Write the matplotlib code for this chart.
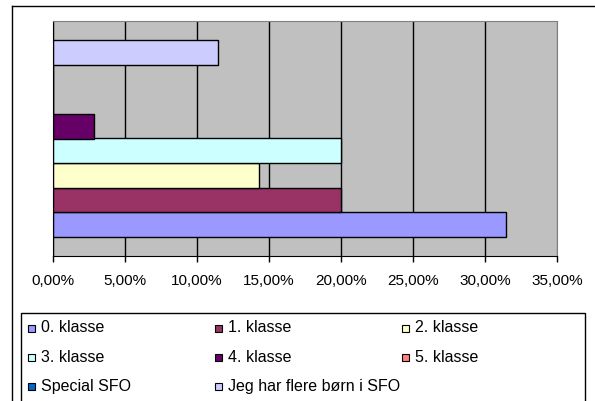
import matplotlib
matplotlib.use("Agg")
import matplotlib.pyplot as plt
from matplotlib.patches import Rectangle
from matplotlib.lines import Line2D
from matplotlib.ticker import FuncFormatter
import numpy as np

plt.rcParams['font.family'] = ['Liberation Sans', 'DejaVu Sans']

series = ["0. klasse", "1. klasse", "2. klasse", "3. klasse",
          "4. klasse", "5. klasse", "Special SFO", "Jeg har flere børn i SFO"]
values = [31.43, 20.00, 14.29, 20.00, 2.86, 0.0, 0.0, 11.43]
colors = ["#9999FF", "#993366", "#FFFFCC", "#CCFFFF",
          "#660066", "#FF8080", "#0066CC", "#CCCCFF"]
xticks = [0, 5, 10, 15, 20, 25, 30, 35]

W, H = 595, 401
fig = plt.figure(figsize=(W / 100, H / 100), dpi=100)


def px(x, y):
    # pixel position (from top-left) -> figure fraction
    return x / W, 1 - y / H


# outer chart border (cut off on the right and bottom)
fig.add_artist(Line2D([12 / W, 12 / W], [0, 1 - 6 / H], color="black", lw=1.0))
fig.add_artist(Line2D([12 / W, 1], [1 - 6 / H, 1 - 6 / H], color="black", lw=1.0))

left, top, right, bottom = 53, 21, 557, 256
ax = fig.add_axes([left / W, 1 - bottom / H, (right - left) / W, (bottom - top) / H])
ax.set_facecolor("#C0C0C0")

ypos = np.arange(len(series))
ax.barh(ypos, values, height=1.0, color=colors, edgecolor="black", linewidth=1)

ax.set_xlim(0, 35)
ax.set_ylim(-1.27, len(series) - 1 + 1.27)
ax.set_xticks(xticks)
ax.xaxis.set_major_formatter(FuncFormatter(lambda v, p: f"{v:.2f}%".replace(".", ",")))
ax.set_yticks([])
ax.tick_params(axis="x", direction="out", length=4, width=1, color="black",
               pad=9, labelsize=11)

ax.set_axisbelow(True)
ax.xaxis.grid(True, color="black", linewidth=1)
ax.get_xgridlines()[-1].set_color("#808080")

ax.spines["left"].set_color("black")
ax.spines["bottom"].set_color("black")
ax.spines["top"].set_color("#808080")
ax.spines["right"].set_color("#808080")

# legend box laid out in three fixed columns like the original
lx0, ly0 = px(21, 313)
fig.add_artist(Rectangle((lx0, 0 - 0.01), (585 - 21) / W, ly0 + 0.01,
                         transform=fig.transFigure, facecolor="white",
                         edgecolor="black", linewidth=1))
col_x = [28, 215, 402]
row_y = [328, 357, 386]
msz = 7
for i, (name, c) in enumerate(zip(series, colors)):
    cx = col_x[i % 3]
    cy = row_y[i // 3]
    mx, my = px(cx, cy + msz / 2)
    fig.add_artist(Rectangle((mx, my), msz / W, msz / H, transform=fig.transFigure,
                             facecolor=c, edgecolor="black", linewidth=0.8))
    tx, ty = px(cx + 13, cy)
    fig.text(tx, ty, name, fontsize=11.5, va="center", ha="left")

fig.savefig("out.png", dpi=100)
